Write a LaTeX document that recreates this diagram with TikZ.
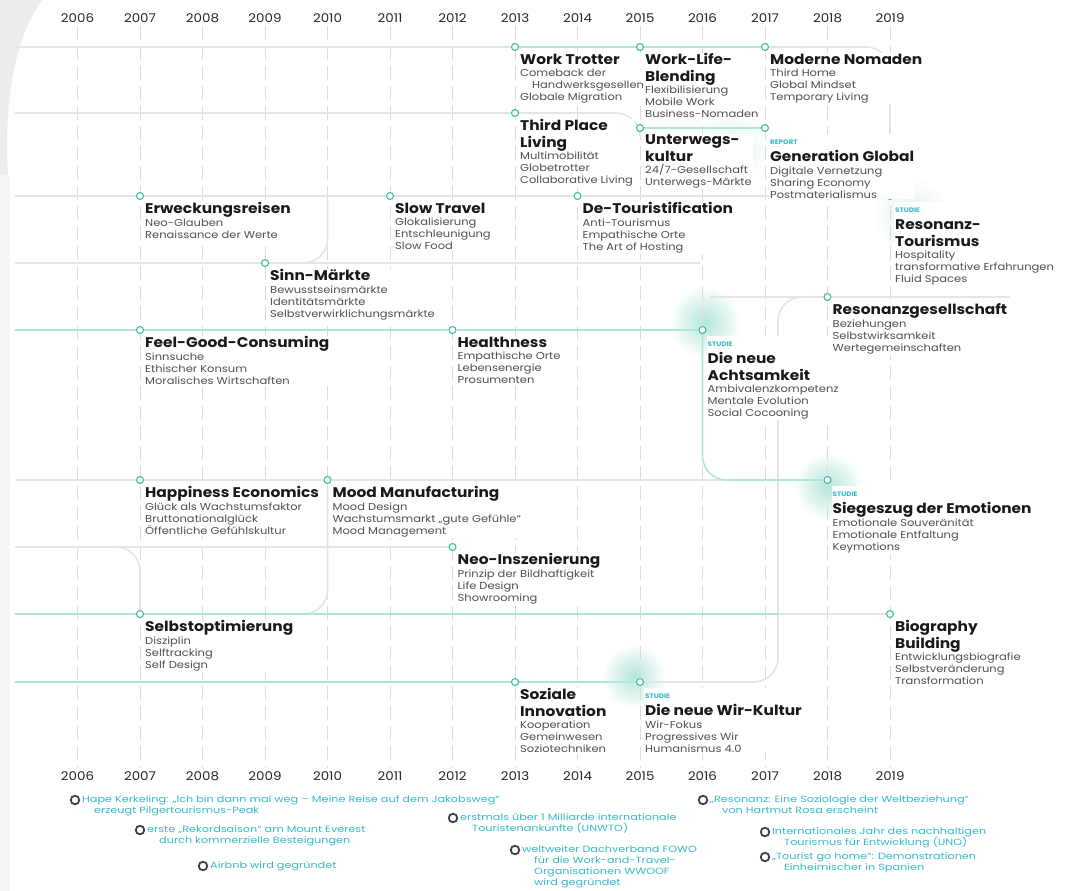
\documentclass[tikz,border=0pt]{standalone}
\usepackage{fontspec}
\setmainfont{Poppins}
\newfontfamily\subfont[FakeStretch=1.15]{Poppins}
\newfontfamily\ttlfont[FakeStretch=1.1]{Poppins}
\newfontfamily\evfont[FakeStretch=1.25]{Poppins}
\newfontfamily\yrfont[FakeStretch=1.12]{Poppins}
\usetikzlibrary{positioning, backgrounds}

\definecolor{mint}{RGB}{64,190,160}
\definecolor{aqua}{RGB}{52,186,200}
\definecolor{ink}{RGB}{25,25,25}
\definecolor{subink}{RGB}{80,80,80}

\tikzset{
  dot/.style   = {circle, draw=mint, line width=1.1pt, fill=white,
                  minimum size=7pt, inner sep=0pt},
  edot/.style  = {circle, draw=black!75, line width=1.8pt, fill=white,
                  minimum size=8.5pt, inner sep=0pt},
  trend/.style = {anchor=north west, align=left, inner sep=1pt, fill=white,
                  text=subink, font=\subfont\fontsize{10}{12}\selectfont},
  event/.style = {anchor=north west, align=left, inner sep=0pt, text=aqua,
                  font=\evfont\fontsize{9}{11}\selectfont},
  year/.style  = {font=\yrfont\fontsize{12}{14}\selectfont, text=black!85},
  grid/.style  = {black!14, line width=0.8pt, dash pattern=on 14pt off 6pt},
  trk/.style   = {black!10, line width=1.6pt, rounded corners=24pt},
  trkm/.style  = {mint!40, line width=1.6pt, rounded corners=24pt},
}
\newcommand{\ttl}[1]{{\ttlfont\fontsize{14}{16}\selectfont\bfseries\color{ink}#1}}
\newcommand{\kind}[1]{\rule{0pt}{10pt}{\ttlfont\fontsize{6.5}{7}\selectfont\bfseries\color{aqua}#1}}

\begin{document}
\lineskiplimit=-20pt\relax
\begin{tikzpicture}[x=1pt, y=-1pt]
\useasboundingbox (0,0) rectangle (1066,891);

% ────────────────────────────────────────────────
%  Years on top and bottom (x = 77.5 + 62.5*i)
% ────────────────────────────────────────────────
\foreach \yr [count=\i from 0] in {2006,...,2019} {
  \node[year] (yt-\yr) at (77.5+62.5*\i, 18)  {\yr};
  \node[year] (yb-\yr) at (77.5+62.5*\i, 776) {\yr};
}

% ────────────────────────────────────────────────
%  Trend dots  (row y: 47 / 113 / 196 / 263 / 330 / 480 / 547 / 614 / 682)
% ────────────────────────────────────────────────
\node[dot] (wt)  at (515,47)    {};
\node[dot] (wlb) at (640,47)    {};
\node[dot] (mn)  at (765,47)    {};
\node[dot] (tpl) at (515,113)   {};
\node[dot] (uk)  at (640,128)   {};
\node[dot] (gg)  at (765,128)   {};
\node[dot] (ew)  at (140,196)   {};
\node[dot] (st)  at (390,196)   {};
\node[dot] (dt)  at (577.5,196) {};
\node[dot] (rt)  at (890,196)   {};
\node[dot] (sm)  at (265,263)   {};
\node[dot] (rg)  at (827.5,297) {};
\node[dot] (fg)  at (140,330)   {};
\node[dot] (hn)  at (452.5,330) {};
\node[dot] (na)  at (702.5,330) {};
\node[dot] (he)  at (140,480)   {};
\node[dot] (mm)  at (327.5,480) {};
\node[dot] (sz)  at (827.5,480) {};
\node[dot] (ni)  at (452.5,547) {};
\node[dot] (so)  at (140,614)   {};
\node[dot] (bb)  at (890,614)   {};
\node[dot] (si)  at (515,682)   {};
\node[dot] (wk)  at (640,682)   {};

% ────────────────────────────────────────────────
%  Trend texts
% ────────────────────────────────────────────────
\node[trend, below right=5.5pt and 4pt of wt.center] (wt-t)
  {\ttl{Work Trotter}\\[0.5pt] Comeback der\\ \hspace*{12pt}Handwerksgesellen\\ Globale Migration};
\node[trend, below right=5.5pt and 4pt of wlb.center] (wlb-t)
  {\ttl{Work-Life-}\\[4.5pt]\ttl{Blending}\\[0.5pt] Flexibilisierung\\ Mobile Work\\ Business-Nomaden};
\node[trend, below right=5.5pt and 4pt of mn.center] (mn-t)
  {\ttl{Moderne Nomaden}\\[0.5pt] Third Home\\ Global Mindset\\ Temporary Living};
\node[trend, below right=5.5pt and 4pt of tpl.center] (tpl-t)
  {\ttl{Third Place}\\[4.5pt]\ttl{Living}\\[0.5pt] Multimobilität\\ Globetrotter\\ Collaborative Living};
\node[trend, below right=5.5pt and 4pt of uk.center] (uk-t)
  {\ttl{Unterwegs-}\\[4.5pt]\ttl{kultur}\\[0.5pt] 24/7-Gesellschaft\\ Unterwegs-Märkte};
\node[trend, below right=5.5pt and 4pt of gg.center] (gg-t)
  {\kind{REPORT}\\[5pt]\ttl{Generation Global}\\[0.5pt] Digitale Vernetzung\\ Sharing Economy\\ Postmaterialismus};
\node[trend, below right=5.5pt and 4pt of ew.center] (ew-t)
  {\ttl{Erweckungsreisen}\\[0.5pt] Neo-Glauben\\ Renaissance der Werte};
\node[trend, below right=5.5pt and 4pt of st.center] (st-t)
  {\ttl{Slow Travel}\\[0.5pt] Glokalisierung\\ Entschleunigung\\ Slow Food};
\node[trend, below right=5.5pt and 4pt of dt.center] (dt-t)
  {\ttl{De-Touristification}\\[0.5pt] Anti-Tourismus\\ Empathische Orte\\ The Art of Hosting};
\node[trend, below right=5.5pt and 4pt of rt.center] (rt-t)
  {\kind{STUDIE}\\[5pt]\ttl{Resonanz-}\\[4.5pt]\ttl{Tourismus}\\[0.5pt] Hospitality\\ transformative Erfahrungen\\ Fluid Spaces};
\node[trend, below right=5.5pt and 4pt of sm.center] (sm-t)
  {\ttl{Sinn-Märkte}\\[0.5pt] Bewusstseinsmärkte\\ Identitätsmärkte\\ Selbstverwirklichungsmärkte};
\node[trend, below right=5.5pt and 4pt of fg.center] (fg-t)
  {\ttl{Feel-Good-Consuming}\\[0.5pt] Sinnsuche\\ Ethischer Konsum\\ Moralisches Wirtschaften};
\node[trend, below right=5.5pt and 4pt of hn.center] (hn-t)
  {\ttl{Healthness}\\[0.5pt] Empathische Orte\\ Lebensenergie\\ Prosumenten};
\node[trend, below right=5.5pt and 4pt of na.center] (na-t)
  {\kind{STUDIE}\\[5pt]\ttl{Die neue}\\[4.5pt]\ttl{Achtsamkeit}\\[0.5pt] Ambivalenzkompetenz\\ Mentale Evolution\\ Social Cocooning};
\node[trend, below right=5.5pt and 4pt of rg.center] (rg-t)
  {\ttl{Resonanzgesellschaft}\\[0.5pt] Beziehungen\\ Selbstwirksamkeit\\ Wertegemeinschaften};
\node[trend, below right=5.5pt and 4pt of he.center] (he-t)
  {\ttl{Happiness Economics}\\[0.5pt] Glück als Wachstumsfaktor\\ Bruttonationalglück\\ Öffentliche Gefühlskultur};
\node[trend, below right=5.5pt and 4pt of mm.center] (mm-t)
  {\ttl{Mood Manufacturing}\\[0.5pt] Mood Design\\ Wachstumsmarkt „gute Gefühle“\\ Mood Management};
\node[trend, below right=5.5pt and 4pt of sz.center] (sz-t)
  {\kind{STUDIE}\\[5pt]\ttl{Siegeszug der Emotionen}\\[0.5pt] Emotionale Souveränität\\ Emotionale Entfaltung\\ Keymotions};
\node[trend, below right=5.5pt and 4pt of ni.center] (ni-t)
  {\ttl{Neo-Inszenierung}\\[0.5pt] Prinzip der Bildhaftigkeit\\ Life Design\\ Showrooming};
\node[trend, below right=5.5pt and 4pt of so.center] (so-t)
  {\ttl{Selbstoptimierung}\\[0.5pt] Disziplin\\ Selftracking\\ Self Design};
\node[trend, below right=5.5pt and 4pt of bb.center] (bb-t)
  {\ttl{Biography}\\[4.5pt]\ttl{Building}\\[0.5pt] Entwicklungsbiografie\\ Selbstveränderung\\ Transformation};
\node[trend, below right=5.5pt and 4pt of si.center] (si-t)
  {\ttl{Soziale}\\[4.5pt]\ttl{Innovation}\\[0.5pt] Kooperation\\ Gemeinwesen\\ Soziotechniken};
\node[trend, below right=5.5pt and 4pt of wk.center] (wk-t)
  {\kind{STUDIE}\\[5pt]\ttl{Die neue Wir-Kultur}\\[0.5pt] Wir-Fokus\\ Progressives Wir\\ Humanismus 4.0};

% ────────────────────────────────────────────────
%  Events below the bottom years
% ────────────────────────────────────────────────
\node[edot] (e1) at (75,800)  {};
\node[edot] (e2) at (140,830) {};
\node[edot] (e3) at (203,866) {};
\node[edot] (e4) at (453,818) {};
\node[edot] (e5) at (515,850) {};
\node[edot] (e6) at (703,800) {};
\node[edot] (e7) at (765,832) {};
\node[edot] (e8) at (765,857) {};

\node[event, below right=-5pt and 7pt of e1.center] (e1-t)
  {Hape Kerkeling: „Ich bin dann mal weg – Meine Reise auf dem Jakobsweg“\\
   \hspace*{12pt}erzeugt Pilgertourismus-Peak};
\node[event, below right=-5pt and 7pt of e2.center] (e2-t)
  {erste „Rekordsaison“ am Mount Everest\\ \hspace*{12pt}durch kommerzielle Besteigungen};
\node[event, below right=-5pt and 7pt of e3.center] (e3-t)
  {Airbnb wird gegründet};
\node[event, below right=-5pt and 7pt of e4.center] (e4-t)
  {erstmals über 1 Milliarde internationale\\ \hspace*{12pt}Touristenankünfte (UNWTO)};
\node[event, below right=-5pt and 7pt of e5.center] (e5-t)
  {weltweiter Dachverband FOWO\\ \hspace*{12pt}für die Work-and-Travel-\\
   \hspace*{12pt}Organisationen WWOOF\\ \hspace*{12pt}wird gegründet};
\node[event, below right=-5pt and 7pt of e6.center] (e6-t)
  {„Resonanz: Eine Soziologie der Weltbeziehung“\\ \hspace*{12pt}von Hartmut Rosa erscheint};
\node[event, below right=-5pt and 7pt of e7.center] (e7-t)
  {Internationales Jahr des nachhaltigen\\ \hspace*{12pt}Tourismus für Entwicklung (UNO)};
\node[event, below right=-5pt and 7pt of e8.center] (e8-t)
  {„Tourist go home“: Demonstrationen\\ \hspace*{12pt}Einheimischer in Spanien};

% ────────────────────────────────────────────────
%  Background: glows, year grid, tracks
% ────────────────────────────────────────────────
\begin{pgfonlayer}{background}
  \fill[black!7] (0,0) -- (42,0) .. controls (14,40) and (4,100) .. (8,175)
    -- (0,175) -- cycle;
  \fill[black!4] (0,175) rectangle (10,891);

  \shade[inner color=mint!40, outer color=white] (705,322) circle (36);
  \shade[inner color=mint!40, outer color=white] (828,486) circle (34);
  \shade[inner color=mint!40, outer color=white] (634,676) circle (32);
  \shade[inner color=mint!18, outer color=white] (730,150) circle (38);
  \shade[inner color=mint!18, outer color=white] (912,216) circle (40);

  \foreach \yr in {2006,...,2019}
    \draw[grid] (yt-\yr) -- (yb-\yr);

  \coordinate (l47)  at (15,47);
  \coordinate (l113) at (15,113);
  \coordinate (l196) at (15,196);
  \coordinate (l263) at (15,263);
  \coordinate (l330) at (15,330);
  \coordinate (l480) at (15,480);
  \coordinate (l547) at (15,547);
  \coordinate (l614) at (15,614);
  \coordinate (l682) at (15,682);

  \draw[trk]  (l47) -- (wt);
  \draw[trkm] (wt) -- (wlb) -- (mn);
  \draw[trk]  (mn) -| (rt);
  \draw[trk]  (l113) -- (tpl);
  \draw[trk]  (tpl) -| (uk);
  \draw[trkm] (uk) -- (gg);
  \draw[trk]  (l196) -- (ew) -- (st) -- (dt) -- (rt);
  \draw[trk]  (l263) -- (sm) -- (700,263);
  \draw[trk]  (sm) -| (327.5,196);
  \draw[trkm] (l330) -- (fg) -- (hn) -- (na);
  \draw[trk]  (710,297) -- (rg) -- (1010,297);
  \draw[trk]  (wk) -| (778,297) -- (rg);
  \draw[trk]  (l480) -- (he) -- (mm) -- (sz);
  \draw[trkm] (na) |- (sz);
  \draw[trk]  (l547) -- (ni);
  \draw[trk]  (90,547) -| (so);
  \draw[trk]  (mm) |- (so);
  \draw[trkm] (l614) -- (so) -- (778,614);
  \draw[trk]  (778,614) -- (bb);
  \draw[trkm] (l682) -- (si) -- (wk);
\end{pgfonlayer}

\end{tikzpicture}
\end{document}
